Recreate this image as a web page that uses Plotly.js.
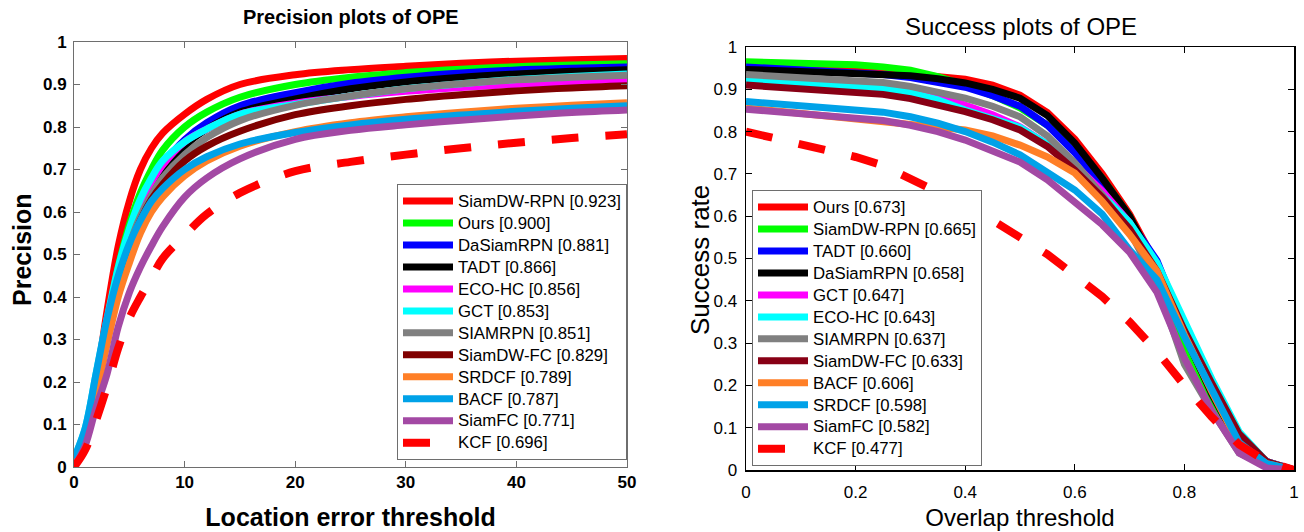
<!DOCTYPE html>
<html>
<head>
<meta charset="utf-8">
<script src="https://cdn.plot.ly/plotly-3.0.1.min.js"></script>
<style>html,body{margin:0;padding:0;background:#fff}#chart{width:1304px;height:532px}</style>
</head>
<body>
<div id="chart"></div>
<script>
// ---------- Precision plot (location error threshold) ----------
const locThresholds = [0,1,2,3,4,5,6,7,8,10,12,15,20,25,30,35,40,45,50];
const precNames = ["SiamDW-RPN [0.923]","Ours [0.900]","DaSiamRPN [0.881]","TADT [0.866]","ECO-HC [0.856]","GCT [0.853]","SIAMRPN [0.851]","SiamDW-FC [0.829]","SRDCF [0.789]","BACF [0.787]","SiamFC [0.771]","KCF [0.696]"];
const precSiamDWRPN = [0.01,0.08,0.20,0.37,0.52,0.625,0.70,0.75,0.785,0.83,0.865,0.90,0.923,0.935,0.943,0.950,0.955,0.958,0.961];
const precOurs      = [0.01,0.08,0.20,0.34,0.47,0.57,0.645,0.70,0.745,0.80,0.835,0.87,0.900,0.917,0.928,0.936,0.942,0.946,0.949];
const precDaSiamRPN = [0.01,0.08,0.20,0.33,0.45,0.54,0.61,0.665,0.71,0.77,0.81,0.85,0.881,0.903,0.917,0.927,0.934,0.938,0.941];
const precTADT      = [0.01,0.08,0.20,0.33,0.44,0.53,0.60,0.65,0.695,0.755,0.795,0.835,0.866,0.89,0.906,0.917,0.925,0.931,0.935];
const precECOHC     = [0.015,0.085,0.21,0.34,0.46,0.55,0.62,0.67,0.71,0.765,0.795,0.83,0.856,0.872,0.884,0.893,0.900,0.906,0.910];
const precGCT       = [0.02,0.09,0.22,0.35,0.47,0.56,0.63,0.68,0.72,0.765,0.795,0.83,0.853,0.873,0.89,0.902,0.912,0.919,0.925];
const precSIAMRPN   = [0.01,0.07,0.18,0.31,0.42,0.52,0.59,0.64,0.68,0.735,0.775,0.815,0.851,0.873,0.89,0.902,0.911,0.917,0.922];
const precSiamDWFC  = [0.01,0.07,0.18,0.31,0.42,0.51,0.58,0.63,0.665,0.72,0.755,0.79,0.829,0.85,0.865,0.876,0.885,0.892,0.897];
const precSRDCF     = [0.01,0.07,0.17,0.29,0.40,0.48,0.55,0.60,0.635,0.685,0.72,0.755,0.789,0.81,0.824,0.835,0.844,0.851,0.857];
const precBACF      = [0.02,0.09,0.22,0.35,0.45,0.525,0.58,0.625,0.655,0.70,0.73,0.76,0.787,0.805,0.818,0.828,0.837,0.844,0.850];
const precSiamFC    = [0.0,0.05,0.14,0.22,0.33,0.41,0.47,0.52,0.565,0.635,0.68,0.725,0.771,0.792,0.805,0.816,0.826,0.834,0.840];
const precKCF       = [0.0,0.04,0.11,0.19,0.28,0.35,0.40,0.445,0.49,0.545,0.595,0.645,0.696,0.718,0.735,0.75,0.763,0.774,0.783];
const precSeries = [precSiamDWRPN,precOurs,precDaSiamRPN,precTADT,precECOHC,precGCT,precSIAMRPN,precSiamDWFC,precSRDCF,precBACF,precSiamFC,precKCF];
const precColors = ["#ff0000","#00ff00","#0000ff","#000000","#ff00ff","#00ffff","#808080","#800000","#ff7f27","#00a2e8","#a349a4","#ff0000"];

// ---------- Success plot (overlap threshold) ----------
const overlapThresholds = [0,0.05,0.1,0.15,0.2,0.25,0.3,0.35,0.4,0.45,0.5,0.55,0.6,0.65,0.7,0.75,0.8,0.85,0.9,0.95,1];
const succNames = ["Ours [0.673]","SiamDW-RPN [0.665]","TADT [0.660]","DaSiamRPN [0.658]","GCT [0.647]","ECO-HC [0.643]","SIAMRPN [0.637]","SiamDW-FC [0.633]","BACF [0.606]","SRDCF [0.598]","SiamFC [0.582]","KCF [0.477]"];
const succOurs      = [0.957,0.955,0.953,0.950,0.946,0.942,0.937,0.932,0.924,0.910,0.886,0.845,0.782,0.700,0.605,0.485,0.350,0.210,0.075,0.020,0];
const succSiamDWRPN = [0.965,0.964,0.963,0.961,0.958,0.953,0.945,0.930,0.910,0.885,0.856,0.815,0.765,0.690,0.600,0.470,0.300,0.170,0.050,0.015,0];
const succTADT      = [0.953,0.950,0.947,0.943,0.939,0.935,0.928,0.918,0.905,0.885,0.860,0.815,0.750,0.675,0.590,0.495,0.335,0.195,0.070,0.020,0];
const succDaSiamRPN = [0.947,0.945,0.943,0.941,0.939,0.937,0.932,0.925,0.915,0.900,0.879,0.838,0.773,0.690,0.600,0.475,0.320,0.180,0.060,0.015,0];
const succGCT       = [0.930,0.927,0.924,0.920,0.915,0.910,0.900,0.885,0.863,0.840,0.811,0.770,0.722,0.660,0.585,0.480,0.330,0.190,0.070,0.020,0];
const succECOHC     = [0.924,0.920,0.916,0.912,0.908,0.903,0.892,0.875,0.851,0.830,0.810,0.770,0.715,0.650,0.585,0.490,0.350,0.215,0.090,0.020,0];
const succSIAMRPN   = [0.935,0.932,0.929,0.925,0.921,0.916,0.907,0.895,0.879,0.860,0.835,0.790,0.726,0.650,0.565,0.440,0.250,0.140,0.040,0.010,0];
const succSiamDWFC  = [0.910,0.906,0.902,0.898,0.893,0.888,0.878,0.864,0.847,0.828,0.804,0.765,0.709,0.645,0.570,0.470,0.330,0.205,0.085,0.020,0];
const succBACF      = [0.856,0.850,0.844,0.838,0.832,0.826,0.818,0.812,0.804,0.790,0.768,0.740,0.702,0.635,0.557,0.470,0.320,0.185,0.060,0.015,0];
const succSRDCF     = [0.871,0.866,0.862,0.857,0.852,0.846,0.835,0.820,0.800,0.775,0.745,0.705,0.662,0.605,0.520,0.450,0.315,0.190,0.065,0.015,0];
const succSiamFC    = [0.853,0.848,0.843,0.838,0.832,0.826,0.815,0.800,0.780,0.756,0.728,0.686,0.632,0.580,0.515,0.420,0.265,0.140,0.040,0.005,0];
const succKCF       = [0.800,0.785,0.770,0.755,0.740,0.720,0.690,0.660,0.625,0.590,0.550,0.510,0.460,0.410,0.350,0.280,0.200,0.125,0.060,0.020,0];
const succSeries = [succOurs,succSiamDWRPN,succTADT,succDaSiamRPN,succGCT,succECOHC,succSIAMRPN,succSiamDWFC,succBACF,succSRDCF,succSiamFC,succKCF];
const succColors = ["#ff0000","#00ff00","#0000ff","#000000","#ff00ff","#00ffff","#808080","#880015","#ff7f27","#00a2e8","#a349a4","#ff0000"];

const FONT = "'Liberation Sans', Arial, Helvetica, sans-serif";
// legend rows use a tight line height (legend font) with slightly larger glyphs
const legendLabel = s => '<span style="font-size:16.8px">' + s + '</span>';

const traces = [];
precSeries.forEach((ys, i) => {
  const isKCF = precNames[i].startsWith("KCF");
  traces.push({
    type: "scatter", mode: "lines", x: locThresholds, y: ys, name: legendLabel(precNames[i]),
    xaxis: "x", yaxis: "y", legend: "legend",
    line: {color: precColors[i], width: isKCF ? 8 : 7, shape: "spline", smoothing: 1, dash: isKCF ? "27px,27px" : "solid"},
    hoverinfo: "skip"
  });
});
succSeries.forEach((ys, i) => {
  const isKCF = succNames[i].startsWith("KCF");
  traces.push({
    type: "scatter", mode: "lines", x: overlapThresholds, y: ys, name: legendLabel(succNames[i]),
    xaxis: "x2", yaxis: "y2", legend: "legend2",
    line: {color: succColors[i], width: isKCF ? 8 : 7, dash: isKCF ? "27px,27px" : "solid"},
    hoverinfo: "skip"
  });
});

const W = 1304, H = 532;
const px = v => v / W, py = v => 1 - v / H;

const layout = {
  width: W, height: H,
  margin: {l: 0, r: 0, t: 0, b: 0},
  paper_bgcolor: "#fff", plot_bgcolor: "#fff",
  font: {family: FONT, color: "#000"},
  showlegend: true,
  xaxis: {
    domain: [px(74), px(627)], anchor: "y", range: [0, 50], tickvals: [0,10,20,30,40,50],
    showline: true, linecolor: "#6e6e6e", linewidth: 1, mirror: "ticks", ticks: "inside", ticklen: 6, tickcolor: "#6e6e6e",
    showgrid: false, zeroline: false, automargin: false,
    tickfont: {family: FONT, size: 17, weight: "bold", color: "#000"},
    title: {text: "Location error threshold", font: {family: FONT, size: 25, weight: "bold", color: "#000"}, standoff: 17}
  },
  yaxis: {
    domain: [py(467), py(42)], anchor: "x", range: [0, 1], dtick: 0.1, tick0: 0,
    showline: true, linecolor: "#6e6e6e", linewidth: 1, mirror: "ticks", ticks: "inside", ticklen: 6, tickcolor: "#6e6e6e",
    showgrid: false, zeroline: false, automargin: false, ticklabelstandoff: 3,
    tickfont: {family: FONT, size: 17, weight: "bold", color: "#000"}
  },
  xaxis2: {
    domain: [px(746), px(1294)], anchor: "y2", range: [0, 1], dtick: 0.2, tick0: 0,
    showline: true, linecolor: "#000", linewidth: 1.5, mirror: "ticks", ticks: "inside", ticklen: 6, tickcolor: "#000",
    showgrid: false, zeroline: false, automargin: false, ticklabelstandoff: 6,
    tickfont: {family: FONT, size: 17, color: "#000"},
    title: {text: "Overlap threshold", font: {family: FONT, size: 24, color: "#000"}, standoff: 8}
  },
  yaxis2: {
    domain: [py(470), py(47)], anchor: "x2", range: [0, 1], dtick: 0.1, tick0: 0,
    showline: true, linecolor: "#000", linewidth: 1.5, mirror: "ticks", ticks: "inside", ticklen: 6, tickcolor: "#000",
    showgrid: false, zeroline: false, automargin: false, ticklabelstandoff: 4,
    tickfont: {family: FONT, size: 17, color: "#000"}
  },
  legend: {
    x: px(627), xanchor: "right", y: py(184), yanchor: "top", xref: "paper", yref: "paper",
    bgcolor: "#fff", bordercolor: "#6e6e6e", borderwidth: 1,
    font: {family: FONT, size: 14.6, color: "#000"}, itemwidth: 50, tracegroupgap: 0
  },
  legend2: {
    x: px(752), xanchor: "left", y: py(190), yanchor: "top", xref: "paper", yref: "paper",
    bgcolor: "#fff", bordercolor: "#6e6e6e", borderwidth: 1,
    font: {family: FONT, size: 14.6, color: "#000"}, itemwidth: 50, tracegroupgap: 0
  },
  annotations: [
    {text: "Precision plots of OPE", xref: "paper", yref: "paper", x: px(351), y: py(17), xanchor: "center", yanchor: "middle", showarrow: false,
     font: {family: FONT, size: 20, weight: "bold", color: "#000"}},
    {text: "Success plots of OPE", xref: "paper", yref: "paper", x: px(1021), y: py(26), xanchor: "center", yanchor: "middle", showarrow: false,
     font: {family: FONT, size: 24, color: "#000"}},
    {text: "Precision", xref: "paper", yref: "paper", x: px(22), y: py(250), xanchor: "center", yanchor: "middle", textangle: -90, showarrow: false,
     font: {family: FONT, size: 25, weight: "bold", color: "#000"}},
    {text: "Success rate", xref: "paper", yref: "paper", x: px(700), y: py(260), xanchor: "center", yanchor: "middle", textangle: -90, showarrow: false,
     font: {family: FONT, size: 26, color: "#000"}}
  ]
};

Plotly.newPlot("chart", traces, layout, {displayModeBar: false, staticPlot: true});
</script>
</body>
</html>
